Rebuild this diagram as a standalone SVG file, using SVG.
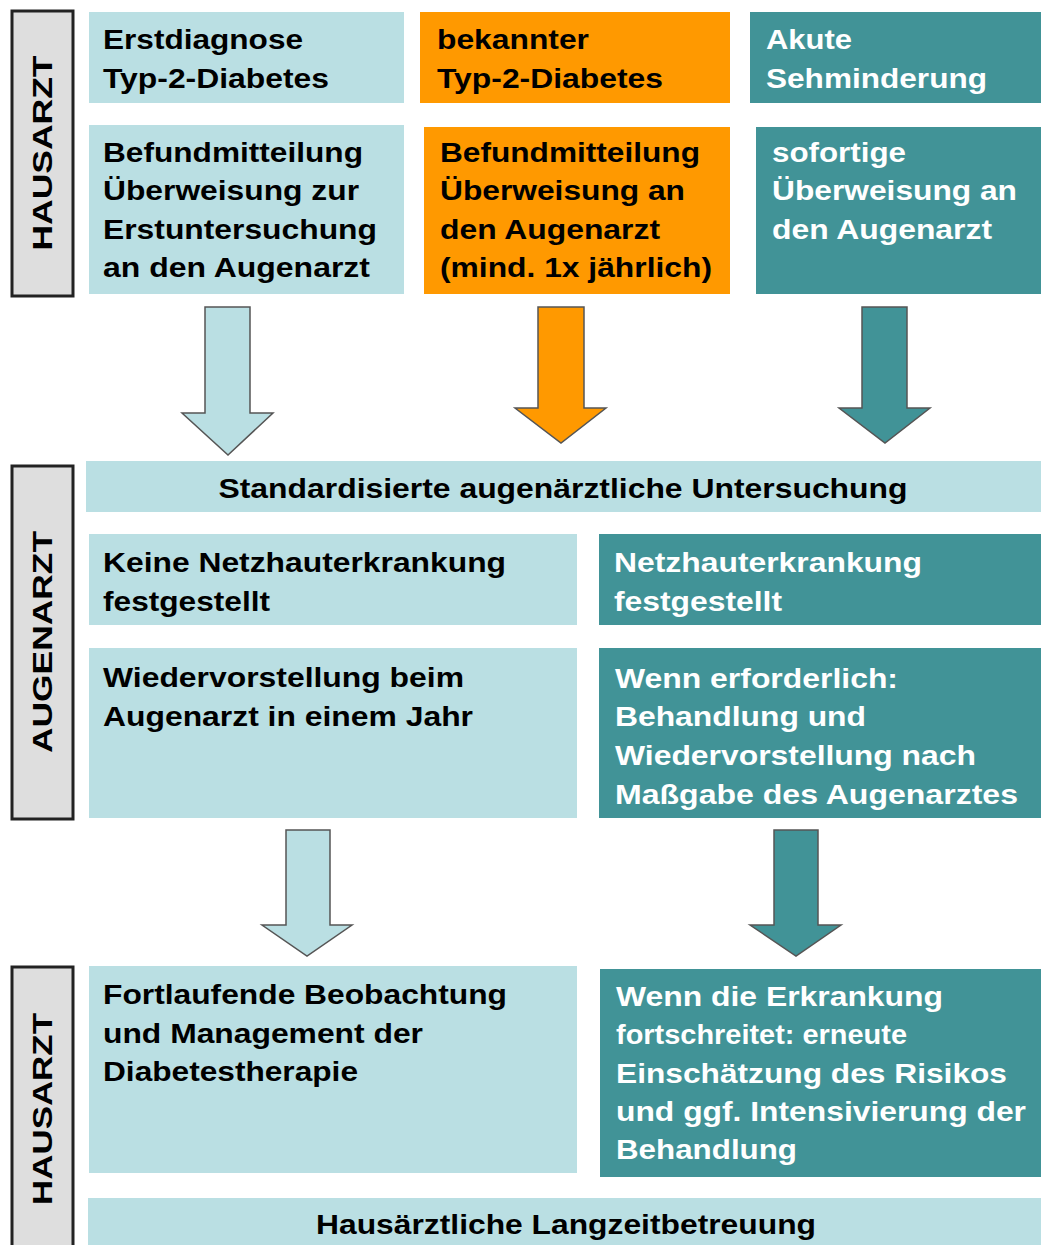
<svg xmlns="http://www.w3.org/2000/svg" width="1041" height="1245" viewBox="0 0 1041 1245">
<style>
.lb{fill:#badfe3}
.or{fill:#ff9900}
.te{fill:#419397}
.side{fill:#dedede;stroke:#222;stroke-width:3}
text{font-family:"Liberation Sans",Arial,sans-serif;font-weight:bold;font-size:27px;fill:#000}
.w{fill:#fff}
.sl{font-size:28px}
.arr{stroke:#555;stroke-width:1.5;stroke-linejoin:miter}
</style>
<rect width="1041" height="1245" fill="#fff"/>

<g id="side-hausarzt-top">
<rect class="side" x="12" y="11" width="61" height="285"/>
<text class="sl" transform="translate(52,153) rotate(-90)" text-anchor="middle" textLength="195" lengthAdjust="spacingAndGlyphs">HAUSARZT</text>
</g>
<g id="side-augenarzt">
<rect class="side" x="12" y="466" width="61" height="353"/>
<text class="sl" transform="translate(52,642) rotate(-90)" text-anchor="middle" textLength="222" lengthAdjust="spacingAndGlyphs">AUGENARZT</text>
</g>
<g id="side-hausarzt-bottom">
<rect class="side" x="12" y="967" width="61" height="290"/>
<text class="sl" transform="translate(52,1109) rotate(-90)" text-anchor="middle" textLength="192" lengthAdjust="spacingAndGlyphs">HAUSARZT</text>
</g>

<g id="n-erstdiagnose">
<rect class="lb" x="89" y="12" width="315" height="91"/>
<text x="103" y="49" textLength="200" lengthAdjust="spacingAndGlyphs">Erstdiagnose</text>
<text x="103" y="88" textLength="226" lengthAdjust="spacingAndGlyphs">Typ-2-Diabetes</text>
</g>
<g id="n-bekannter">
<rect class="or" x="420" y="12" width="310" height="91"/>
<text x="437" y="49" textLength="152" lengthAdjust="spacingAndGlyphs">bekannter</text>
<text x="437" y="88" textLength="226" lengthAdjust="spacingAndGlyphs">Typ-2-Diabetes</text>
</g>
<g id="n-akute">
<rect class="te" x="750" y="12" width="291" height="91"/>
<text class="w" x="766" y="49" textLength="86" lengthAdjust="spacingAndGlyphs">Akute</text>
<text class="w" x="766" y="88" textLength="221" lengthAdjust="spacingAndGlyphs">Sehminderung</text>
</g>

<g id="n-befund1">
<rect class="lb" x="89" y="125" width="315" height="169"/>
<text x="103" y="162" textLength="260" lengthAdjust="spacingAndGlyphs">Befundmitteilung</text>
<text x="103" y="200" textLength="256" lengthAdjust="spacingAndGlyphs">Überweisung zur</text>
<text x="103" y="239" textLength="274" lengthAdjust="spacingAndGlyphs">Erstuntersuchung</text>
<text x="103" y="277" textLength="267" lengthAdjust="spacingAndGlyphs">an den Augenarzt</text>
</g>
<g id="n-befund2">
<rect class="or" x="424" y="127" width="306" height="167"/>
<text x="440" y="162" textLength="260" lengthAdjust="spacingAndGlyphs">Befundmitteilung</text>
<text x="440" y="200" textLength="245" lengthAdjust="spacingAndGlyphs">Überweisung an</text>
<text x="440" y="239" textLength="220" lengthAdjust="spacingAndGlyphs">den Augenarzt</text>
<text x="440" y="277" textLength="272" lengthAdjust="spacingAndGlyphs">(mind. 1x jährlich)</text>
</g>
<g id="n-sofortige">
<rect class="te" x="756" y="127" width="285" height="167"/>
<text class="w" x="772" y="162" textLength="134" lengthAdjust="spacingAndGlyphs">sofortige</text>
<text class="w" x="772" y="200" textLength="245" lengthAdjust="spacingAndGlyphs">Überweisung an</text>
<text class="w" x="772" y="239" textLength="220" lengthAdjust="spacingAndGlyphs">den Augenarzt</text>
</g>

<g id="n-standard">
<rect class="lb" x="86" y="461" width="955" height="51"/>
<text x="563" y="498" text-anchor="middle" textLength="689" lengthAdjust="spacingAndGlyphs">Standardisierte augenärztliche Untersuchung</text>
</g>
<g id="n-keine">
<rect class="lb" x="89" y="534" width="488" height="91"/>
<text x="103" y="572" textLength="403" lengthAdjust="spacingAndGlyphs">Keine Netzhauterkrankung</text>
<text x="103" y="611" textLength="167" lengthAdjust="spacingAndGlyphs">festgestellt</text>
</g>
<g id="n-netzhaut">
<rect class="te" x="599" y="534" width="442" height="91"/>
<text class="w" x="614" y="572" textLength="308" lengthAdjust="spacingAndGlyphs">Netzhauterkrankung</text>
<text class="w" x="614" y="611" textLength="168" lengthAdjust="spacingAndGlyphs">festgestellt</text>
</g>
<g id="n-wiedervorstellung">
<rect class="lb" x="89" y="648" width="488" height="170"/>
<text x="103" y="687" textLength="361" lengthAdjust="spacingAndGlyphs">Wiedervorstellung beim</text>
<text x="103" y="726" textLength="370" lengthAdjust="spacingAndGlyphs">Augenarzt in einem Jahr</text>
</g>
<g id="n-wenn-erforderlich">
<rect class="te" x="599" y="648" width="442" height="170"/>
<text class="w" x="615" y="688" textLength="283" lengthAdjust="spacingAndGlyphs">Wenn erforderlich:</text>
<text class="w" x="615" y="726" textLength="251" lengthAdjust="spacingAndGlyphs">Behandlung und</text>
<text class="w" x="615" y="765" textLength="361" lengthAdjust="spacingAndGlyphs">Wiedervorstellung nach</text>
<text class="w" x="615" y="804" textLength="403" lengthAdjust="spacingAndGlyphs">Maßgabe des Augenarztes</text>
</g>

<g id="n-fortlaufende">
<rect class="lb" x="89" y="966" width="488" height="207"/>
<text x="103" y="1004" textLength="404" lengthAdjust="spacingAndGlyphs">Fortlaufende Beobachtung</text>
<text x="103" y="1043" textLength="320" lengthAdjust="spacingAndGlyphs">und Management der</text>
<text x="103" y="1081" textLength="255" lengthAdjust="spacingAndGlyphs">Diabetestherapie</text>
</g>
<g id="n-wenn-erkrankung">
<rect class="te" x="600" y="969" width="441" height="208"/>
<text class="w" x="616" y="1006" textLength="327" lengthAdjust="spacingAndGlyphs">Wenn die Erkrankung</text>
<text class="w" x="616" y="1044" textLength="291" lengthAdjust="spacingAndGlyphs">fortschreitet: erneute</text>
<text class="w" x="616" y="1083" textLength="391" lengthAdjust="spacingAndGlyphs">Einschätzung des Risikos</text>
<text class="w" x="616" y="1121" textLength="410" lengthAdjust="spacingAndGlyphs">und ggf. Intensivierung der</text>
<text class="w" x="616" y="1159" textLength="181" lengthAdjust="spacingAndGlyphs">Behandlung</text>
</g>
<g id="n-langzeit">
<rect class="lb" x="88" y="1198" width="953" height="60"/>
<text x="566" y="1234" text-anchor="middle" textLength="500" lengthAdjust="spacingAndGlyphs">Hausärztliche Langzeitbetreuung</text>
</g>

<g id="connectors">
<path class="arr lb" d="M205,307 H250 V413 H273 L228,455 L182,413 H205 Z"/>
<path class="arr or" d="M538,307 H584 V408 H606 L561,443 L515,408 H538 Z"/>
<path class="arr te" d="M862,307 H907 V408 H930 L885,443 L839,408 H862 Z"/>
<path class="arr lb" d="M286,830 H330 V925 H352 L307,956 L262,925 H286 Z"/>
<path class="arr te" d="M774,830 H818 V925 H841 L796,956 L750,925 H774 Z"/>
</g>
</svg>
